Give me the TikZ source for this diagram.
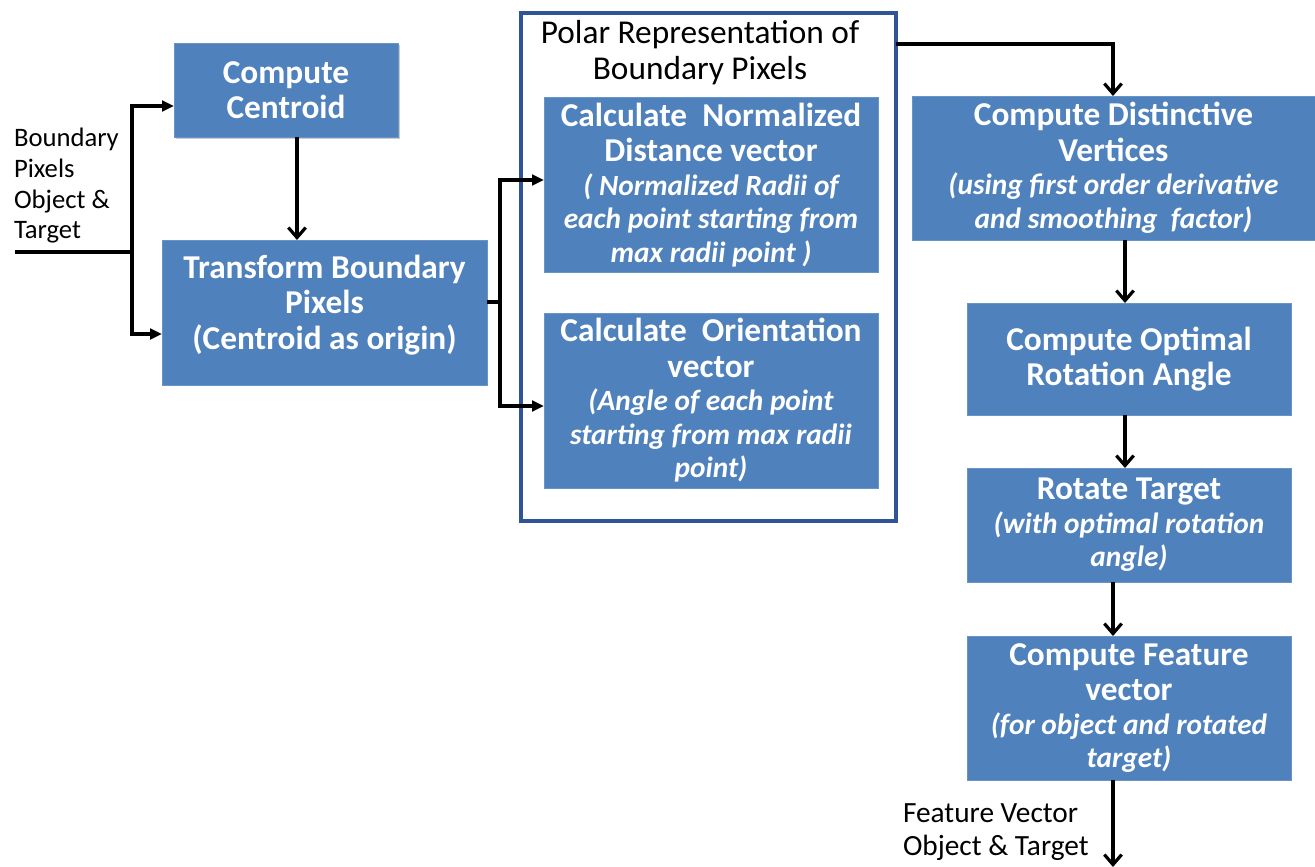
\documentclass[tikz,border=0pt]{standalone}
\usepackage{fontspec}
\setmainfont{Carlito}
\usetikzlibrary{arrows.meta,shadows}
\definecolor{boxblue}{HTML}{4F81BD}
\definecolor{frameblue}{HTML}{2F5597}
\newcommand{\bxtitle}{\fontsize{25}{26.5}\selectfont\bfseries}
\newcommand{\bxnote}{\fontsize{22}{25}\selectfont\bfseries\itshape}
\newcommand{\lbltext}{\fontsize{20}{23}\selectfont}
\begin{document}
\begin{tikzpicture}[x=0.75pt,y=-0.75pt,
  procbox/.style={fill=boxblue, draw=boxblue!85!white, line width=0.6pt, text=white,
    align=center, inner sep=0pt, outer sep=0pt, font=\bxtitle},
  boxtext/.style={text=white, align=center, inner sep=0pt, outer sep=0pt, font=\bxtitle},
  groupframe/.style={draw=frameblue, line width=2.4pt, fill=white, inner sep=0pt, outer sep=0pt},
  wire/.style={line width=2.4pt},
  hconn/.style={wire, -{Triangle[length=9pt,width=8pt]}},
  vconn/.style={wire, -{Straight Barb[length=7.5pt,width=13pt,line width=2.4pt]}},
  lbl/.style={align=left, inner sep=0pt, outer sep=0pt, font=\lbltext}
]
\useasboundingbox (0,0) rectangle (1315,867);

% polar representation frame
\node[groupframe, minimum width=281.25pt, minimum height=381pt] (polar) at (708.5,267) {};
\node[align=center, inner sep=0pt, font=\fontsize{25}{26.5}\selectfont] (polartitle) at (700,52.5)
  {Polar Representation of\\Boundary Pixels};

% processing steps
\node[procbox, minimum width=168pt, minimum height=70.5pt,
  drop shadow={shadow xshift=1.5pt, shadow yshift=-1.5pt, fill=black!35, opacity=0.6}]
  (cent) at (286,90) {Compute\\Centroid};
\node[procbox, minimum width=243.75pt, minimum height=108.75pt] (trans) at (324.5,312.5) {};
\node[boxtext] (transtext) at (324.5,305)
  {Transform Boundary\\Pixels\\(Centroid as origin)};
\node[procbox, minimum width=250.5pt, minimum height=131.25pt] (norm) at (711,185)
  {Calculate\ \ Normalized\\Distance vector\\[-1.3pt]{\bxnote ( Normalized Radii of}\\[-1.3pt]{\bxnote each point starting from}\\[-1.3pt]{\bxnote max radii point )}};
\node[procbox, minimum width=250.5pt, minimum height=131.25pt] (orient) at (711,400.5)
  {Calculate\ \ Orientation\\vector\\[-1.3pt]{\bxnote (Angle of each point}\\[-1.3pt]{\bxnote starting from max radii}\\[-1.3pt]{\bxnote point)}};
\node[procbox, minimum width=302.25pt, minimum height=108pt] (dist) at (1113.5,168)
  {Compute Distinctive\\Vertices\\[-1.3pt]{\bxnote (using first order derivative}\\[-1.3pt]{\bxnote and smoothing\ \ factor)}};
\node[procbox, minimum width=243pt, minimum height=84pt] (optim) at (1129,359)
  {Compute Optimal\\Rotation Angle};
\node[procbox, minimum width=243pt, minimum height=85.5pt] (rot) at (1129,525)
  {Rotate Target\\[-1.3pt]{\bxnote (with optimal rotation}\\[-1.3pt]{\bxnote angle)}};
\node[procbox, minimum width=243pt, minimum height=108pt] (feat) at (1129,708)
  {Compute Feature\\vector\\[-1.3pt]{\bxnote (for object and rotated}\\[-1.3pt]{\bxnote target)}};

% input and output labels
\node[lbl, anchor=west] (inlbl) at (14,186) {Boundary\\Pixels\\Object \&\\Target};
\node[lbl, anchor=west, font=\fontsize{22}{24.5}\selectfont] (outlbl) at (903,832)
  {Feature Vector\\Object \& Target};

% connectors
\coordinate (in) at (15,252);
\coordinate (split1) at (132,252);
\coordinate (split2) at (500,302);
\coordinate (out) at (1113,867);

\draw[wire] (in) -- (split1);
\draw[hconn] (split1) |- (cent.west |- 0,106);
\draw[hconn] (split1) |- (trans.west |- 0,334);
\draw[vconn] (cent.south -| 297,0) -- (trans.north -| 297,0);

\draw[wire] (trans.east |- 0,302) -- (split2);
\draw[hconn] (split2) |- (norm.west |- 0,180);
\draw[hconn] (split2) |- (orient.west |- 0,406);

\draw[vconn] (polar.east |- 0,44) -| (dist.north -| 1113,0);
\draw[vconn] (dist.south -| 1125,0) -- (optim.north -| 1125,0);
\draw[vconn] (optim.south -| 1125,0) -- (rot.north -| 1125,0);
\draw[vconn] (rot.south -| 1113,0) -- (feat.north -| 1113,0);
\draw[vconn] (feat.south -| 1113,0) -- (out);
\end{tikzpicture}
\end{document}
